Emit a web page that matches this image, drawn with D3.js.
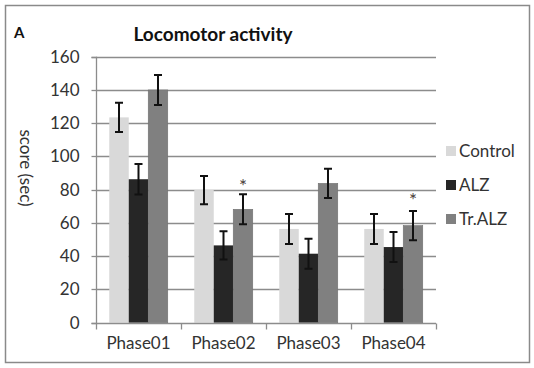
<!DOCTYPE html>
<html><head><meta charset="utf-8">
<script src="https://cdn.jsdelivr.net/npm/d3@7"></script>
<style>body{margin:0;background:#fff}svg{display:block}</style>
</head><body>
<script>
const categories = ["Phase01","Phase02","Phase03","Phase04"];
const seriesNames = ["Control","ALZ","Tr.ALZ"];
const control = [123.5, 79.8, 56.4, 56.4];
const alz = [86.3, 46.5, 41.5, 45.5];
const trAlz = [140, 68.2, 83.8, 58.4];
const controlErr = [8.8, 8.5, 9, 9];
const alzErr = [9.2, 8.5, 9, 9];
const trAlzErr = [9, 9, 8.8, 8.8];
const yTicks = [0,20,40,60,80,100,120,140,160];
const starred = [{cat:"Phase02", series:"Tr.ALZ", y:84}, {cat:"Phase04", series:"Tr.ALZ", y:75.5}];

const colors = {"Control":"#d9d9d9","ALZ":"#262626","Tr.ALZ":"#808080"};
const values = {"Control":control,"ALZ":alz,"Tr.ALZ":trAlz};
const errs = {"Control":controlErr,"ALZ":alzErr,"Tr.ALZ":trAlzErr};

const W=534,H=368;
const svg=d3.select("body").append("svg").attr("width",W).attr("height",H);
const font="Lato, 'Open Sans', sans-serif";
const txt="#333";

svg.append("rect").attr("x",5.5).attr("y",5.5).attr("width",524).attr("height",357)
  .attr("fill","#fff").attr("stroke","#8a8a8a").attr("stroke-width",1.5);

const pL=96, pR=436, pT=56.7, pB=322.7;
const y=d3.scaleLinear().domain([0,160]).range([pB,pT]);
const x0=d3.scaleBand().domain(categories).range([pL,pR]).paddingInner(0).paddingOuter(0);
const x1=d3.scaleBand().domain(seriesNames).range([0,x0.bandwidth()]).paddingOuter(0.68).paddingInner(0);

// gridlines
svg.append("g").selectAll("line").data(yTicks.filter(d=>d>0)).join("line")
  .attr("x1",pL).attr("x2",pR).attr("y1",d=>Math.round(y(d))+0.5).attr("y2",d=>Math.round(y(d))+0.5)
  .attr("stroke","#8c8c8c").attr("stroke-width",1.3);

// y axis
const ya=svg.append("g").attr("transform",`translate(${pL+0.5},0)`)
  .call(d3.axisLeft(y).tickValues(yTicks).tickSize(5).tickPadding(12));
ya.select(".domain").attr("stroke","#8c8c8c").attr("stroke-width",1.3).attr("d",`M-5,${Math.round(pT)+0.5}H0V${Math.round(pB)+0.5}H-5`);
ya.selectAll(".tick line").attr("stroke","#8c8c8c").attr("stroke-width",1.3);
ya.selectAll(".tick").attr("transform",d=>`translate(0,${Math.round(y(d))+0.5})`);
ya.selectAll("text").attr("font-family",font).attr("font-size",17).attr("fill",txt);

// bars
const g=svg.append("g");
categories.forEach((c,i)=>{
  seriesNames.forEach(s=>{
    const v=values[s][i], e=errs[s][i];
    const bx=x0(c)+x1(s);
    g.append("rect").attr("x",bx).attr("y",y(v)).attr("width",x1.bandwidth()).attr("height",y(0)-y(v))
      .attr("fill",colors[s]).attr("stroke",s==="Tr.ALZ"?"#707070":"none").attr("stroke-width",0.6);
    const cx=bx+x1.bandwidth()/2;
    g.append("path").attr("d",`M${cx-4},${y(v+e)}H${cx+4}M${cx},${y(v+e)}V${y(v-e)}M${cx-4},${y(v-e)}H${cx+4}`)
      .attr("stroke","#111").attr("stroke-width",2).attr("fill","none");
  });
});

// x axis
const xa=svg.append("g").attr("transform",`translate(0,${Math.round(pB)+0.5})`);
xa.append("line").attr("x1",pL).attr("x2",pR).attr("stroke","#8c8c8c").attr("stroke-width",1.3);
xa.selectAll("line.t").data(categories.map(c=>x0(c)).concat([pR])).join("line").attr("class","t")
  .attr("x1",d=>d+0.5).attr("x2",d=>d+0.5).attr("y1",0).attr("y2",6).attr("stroke","#8c8c8c").attr("stroke-width",1.3);
xa.selectAll("text").data(categories).join("text")
  .attr("x",c=>x0(c)+x0.bandwidth()/2).attr("y",25).attr("text-anchor","middle")
  .attr("font-family",font).attr("font-size",17).attr("fill",txt).text(d=>d);

// stars
starred.forEach(st=>{
  const cx=x0(st.cat)+x1(st.series)+x1.bandwidth()/2;
  svg.append("text").attr("x",cx).attr("y",y(st.y)+10).attr("text-anchor","middle")
    .attr("font-family",font).attr("font-size",19).attr("fill","#4a4038").text("*");
});

// legend
const lg=svg.append("g");
seriesNames.forEach((s,i)=>{
  const ly=151+i*34;
  lg.append("rect").attr("x",446).attr("y",ly-5).attr("width",10).attr("height",10).attr("fill",colors[s]);
  lg.append("text").attr("x",459).attr("y",ly+6).attr("font-family",font).attr("font-size",17).attr("fill",txt).text(s);
});

// title
svg.append("text").attr("x",213).attr("y",41).attr("text-anchor","middle").attr("font-family",font)
  .attr("font-size",19).attr("font-weight","bold").attr("fill","#111").text("Locomotor activity");
svg.append("text").attr("x",14).attr("y",38).attr("font-family",font)
  .attr("font-size",15).attr("font-weight","bold").attr("fill","#111").text("A");
// y label
svg.append("text").attr("transform","translate(20,168) rotate(90)").attr("text-anchor","middle")
  .attr("font-family",font).attr("font-size",17).attr("fill",txt).text("score (sec)");
</script>
</body></html>
